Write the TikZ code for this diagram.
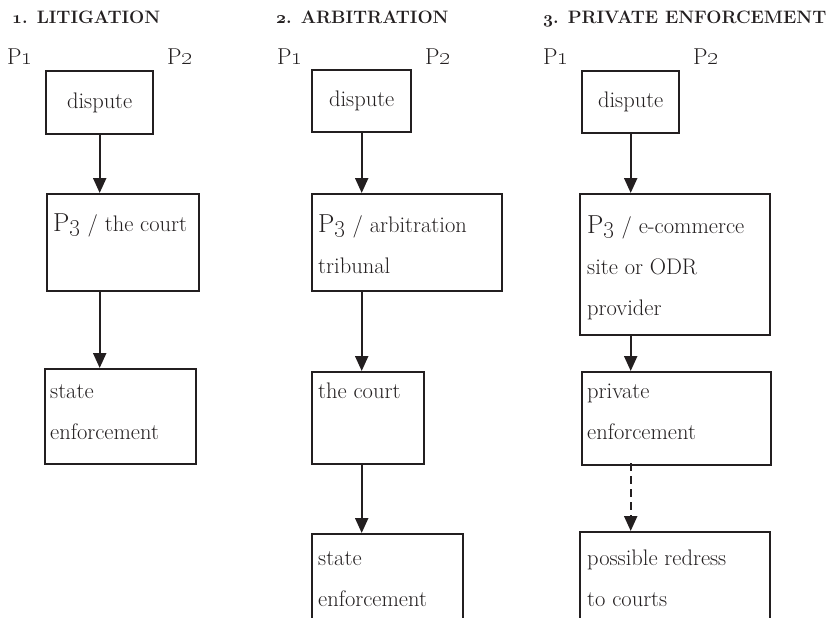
\documentclass[tikz,border=0pt]{standalone}
\usepackage{tikz}
\usetikzlibrary{arrows.meta}
\definecolor{inkdark}{RGB}{35,31,32}
\newcommand\boxfont{\fontsize{22.5}{41}\selectfont}
\newcommand\pfont{\fontsize{23}{26}\selectfont}
\newcommand\pthree{{\fontsize{26}{30}\selectfont P\oldstylenums{3}}}
\newcommand\bnum[1]{{\usefont{OML}{cmm}{b}{it}#1}}

\begin{document}
\begin{tikzpicture}[x=1pt,y=-1pt,inkdark,
    box/.style={draw=inkdark,line width=2.4pt,anchor=north west,inner sep=0pt,font=\boxfont},
    boxtext/.style={anchor=base west,inner sep=0pt,align=left,font=\boxfont},
    title/.style={anchor=base west,inner sep=0pt,font=\fontsize{18}{20}\selectfont\bfseries},
    party/.style={anchor=base west,inner sep=0pt,font=\pfont},
    flow/.style={line width=2.2pt,-{Triangle[length=15pt,width=13pt]}}]
  \clip (0,0) rectangle (830,618);
  % column titles
  \node[title] (tlit) at (12,24) {\bnum{1}. LITIGATION};
  \node[title] (tarb) at (276,24) {\bnum{2}. ARBITRATION};
  \node[title] (tpriv) at (543,24) {\bnum{3}. PRIVATE ENFORCEMENT};
  % parties
  \node[party] (litpa) at (7,65) {P\oldstylenums{1}};
  \node[party] (litpb) at (167,65) {P\oldstylenums{2}};
  \node[party] (arbpa) at (277,65) {P\oldstylenums{1}};
  \node[party] (arbpb) at (425,65) {P\oldstylenums{2}};
  \node[party] (privpa) at (543,65) {P\oldstylenums{1}};
  \node[party] (privpb) at (693,65) {P\oldstylenums{2}};

  % 1. litigation (text nodes sit on their last baseline)
  \node[box,minimum width=107,minimum height=63] (litdispute) at (45,70) {dispute};
  \node[box,minimum width=152,minimum height=97] (litcourt) at (46,193) {};
  \node[boxtext] (litcourttxt) at (53,231) {\pthree{} / the court};
  \node[box,minimum width=151,minimum height=95] (litstate) at (44,368) {};
  \node[boxtext] (litstatetxt) at (50,439) {state\\enforcement};
  \draw[flow] (litdispute.south) -- (litdispute.south |- litcourt.north);
  \draw[flow] (litdispute.south |- litcourt.south) -- (litdispute.south |- litstate.north);

  % 2. arbitration
  \node[box,minimum width=99,minimum height=62] (arbdispute) at (311,69) {dispute};
  \node[box,minimum width=190,minimum height=97] (arbtrib) at (311,193) {};
  \node[boxtext] (arbtribtxt) at (318,273) {\pthree{} / arbitration\\tribunal};
  \node[box,minimum width=112,minimum height=92] (arbcourt) at (311,371) {};
  \node[boxtext] (arbcourttxt) at (318,398) {the court};
  \node[box,minimum width=151,minimum height=110] (arbstate) at (311,533) {};
  \node[boxtext] (arbstatetxt) at (318,606) {state\\enforcement};
  \draw[flow] (arbdispute.south) -- (arbdispute.south |- arbtrib.north);
  \draw[flow] (arbdispute.south |- arbtrib.south) -- (arbdispute.south |- arbcourt.north);
  \draw[flow] (arbdispute.south |- arbcourt.south) -- (arbdispute.south |- arbstate.north);

  % 3. private enforcement
  \node[box,minimum width=97,minimum height=62] (privdispute) at (581,70) {dispute};
  \node[box,minimum width=190,minimum height=141] (privodr) at (579,193) {};
  \node[boxtext] (privodrtxt) at (587,315) {\pthree{} / e-commerce\\site or ODR\\provider};
  \node[box,minimum width=189,minimum height=93] (privenf) at (581,371) {};
  \node[boxtext] (privenftxt) at (587,439) {private\\enforcement};
  \node[box,minimum width=190,minimum height=110] (privredress) at (579,531) {};
  \node[boxtext] (privredresstxt) at (587,606) {possible redress\\to courts};
  \draw[flow] (privdispute.south) -- (privdispute.south |- privodr.north);
  \draw[flow] (privdispute.south |- privodr.south) -- (privdispute.south |- privenf.north);
  \draw[flow,dash pattern=on 8pt off 5pt] ([yshift=3]privdispute.south |- privenf.south) -- (privdispute.south |- privredress.north);
\end{tikzpicture}
\end{document}
